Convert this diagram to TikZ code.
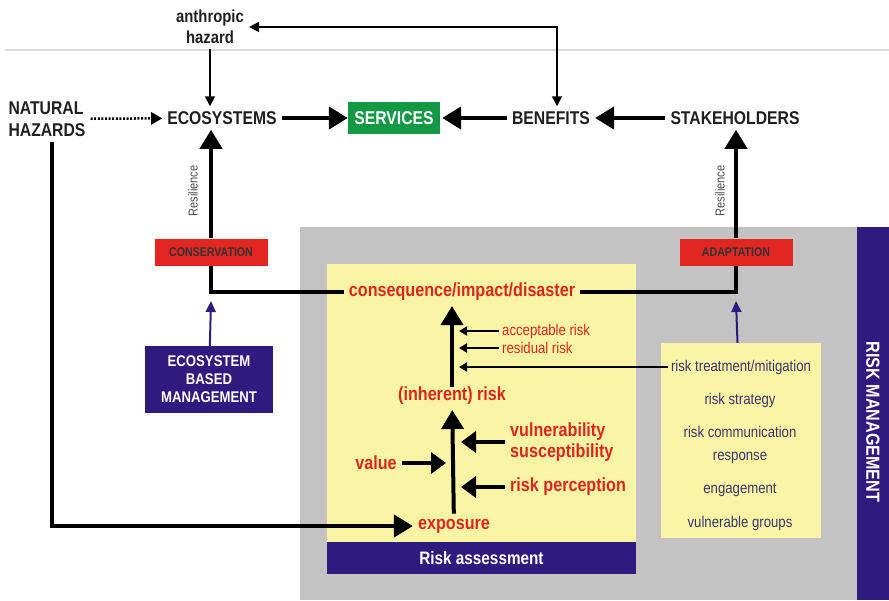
\documentclass[tikz,border=0pt]{standalone}
\usepackage{fontspec}
\setmainfont{Liberation Sans}[FakeStretch=0.85]
\usetikzlibrary{arrows.meta}

\definecolor{rmblue}{RGB}{45,27,128}
\definecolor{rmgray}{RGB}{195,195,195}
\definecolor{rayellow}{RGB}{250,245,165}
\definecolor{boxred}{RGB}{226,38,34}
\definecolor{txtred}{RGB}{222,38,30}
\definecolor{srvgreen}{RGB}{20,152,70}
\definecolor{itemblue}{RGB}{58,54,110}

\tikzset{
  mainlabel/.style={font=\bfseries\fontsize{18.5}{22}\selectfont, text=black!88, inner sep=5pt, align=center},
  riskred/.style={font=\bfseries\fontsize{19}{21}\selectfont, text=txtred, inner sep=5pt, align=left},
  riskthin/.style={font=\fontsize{15.5}{17}\selectfont, text=txtred, inner sep=3pt},
  item/.style={font=\fontsize{15.5}{17}\selectfont, text=itemblue, inner sep=3pt},
  redbox/.style={fill=boxred, text=black!80, font=\bfseries\fontsize{12.5}{14}\selectfont,
    minimum width=113pt, minimum height=27pt},
  bluebox/.style={fill=rmblue, text=white, font=\bfseries\fontsize{15.5}{18}\selectfont, align=center},
  topline/.style={line width=4.5pt, -{Triangle[length=19pt,width=22pt]}},
  bigarrow/.style={line width=4pt, -{Triangle[length=19pt,width=22pt]}},
  sidearrow/.style={line width=4pt, -{Triangle[length=15pt,width=21pt]}},
  thinside/.style={line width=1.8pt, -{Triangle[length=8pt,width=9pt]}},
  thinarrow/.style={line width=1.8pt, -{Triangle[length=10pt,width=10pt]}},
  bluearrow/.style={draw=rmblue, line width=2pt, -{Triangle[length=11pt,width=10pt]}},
  link/.style={line width=4.5pt}
}

% thin arrow from a label into a risk axis
\def\side#1#2{%
  \draw[thinside] (#1.west) -- (#2 |- #1.west);
}

\begin{document}
\begin{tikzpicture}[x=1pt,y=-1pt]
\useasboundingbox (0,0) rectangle (889,600);
\fill[rmgray] (300,227) rectangle (857,600);
\fill[rmblue] (857,227) rectangle (889,600);
\fill[rayellow] (327,264) rectangle (636,542);
\draw[black!15, line width=1.5pt] (5,50) -- (889,50);

\draw (210,27) node[mainlabel, font=\bfseries\fontsize{17.5}{21}\selectfont] (anth) {anthropic\\hazard};
\draw (47,119) node[mainlabel, align=left] (nat) {NATURAL\\HAZARDS};
\draw (222,118) node[mainlabel] (eco) {ECOSYSTEMS};
\draw (394,118) node[fill=srvgreen, text=white, font=\bfseries\fontsize{18.5}{22}\selectfont,
  minimum width=92pt, minimum height=32pt] (serv) {SERVICES};
\draw (551,118) node[mainlabel] (ben) {BENEFITS};
\draw (735,118) node[mainlabel] (stake) {STAKEHOLDERS};

\draw (211,252) node[redbox] (cons) {CONSERVATION};
\draw (736,252) node[redbox] (adapt) {ADAPTATION};
\draw (209,379.5) node[bluebox, minimum width=128pt, minimum height=67pt] (ebm) {ECOSYSTEM\\BASED\\MANAGEMENT};
\draw (481.5,558) node[bluebox, minimum width=309pt, minimum height=32pt,
  font=\bfseries\fontsize{18}{20}\selectfont] (ra) {Risk assessment};
\draw (873,422) node[rotate=-90, text=white, font=\bfseries\fontsize{19}{21}\selectfont] (rm) {RISK MANAGEMENT};

\draw (462,292) node[riskred] (cq) {consequence/impact/disaster};
\draw (452,396) node[riskred] (inh) {(inherent) risk};
\draw (454,526) node[riskred] (expo) {exposure};
\draw (376,463) node[riskred] (val) {value};
\draw (505,442) node[riskred, anchor=west] (vuln) {vulnerability\\susceptibility};
\draw (505,487) node[riskred, anchor=west] (perc) {risk perception};
\draw (499,331) node[riskthin, anchor=west] (acc) {acceptable risk};
\draw (499,348) node[riskthin, anchor=west] (resid) {residual risk};

\draw (741,440.5) node[fill=rayellow, minimum width=160pt, minimum height=195pt] (rbox) {};
\draw (741,367) node[item] (treat) {risk treatment/mitigation};
\draw (740,400) node[item] {risk strategy};
\draw (740,432) node[item] {risk communication};
\draw (740,458) node[item] {response};
\draw (740,490) node[item] {engagement};
\draw (740,523) node[item] {vulnerable groups};

\draw[topline] (eco) -- (serv);
\draw[topline, shorten >=2pt] (ben) -- (serv);
\draw[topline] (stake) -- (ben);
\draw[thinarrow] (anth) -- (anth.south |- eco.north);
\draw[thinarrow, {Triangle[length=10pt,width=10pt]}-{Triangle[length=10pt,width=10pt]}]
  (anth.east) -| ([xshift=6pt]ben.north);
\draw[line width=2.5pt, dash pattern=on 2pt off 1.6pt, -{Triangle[length=11pt,width=12pt]}]
  (nat) -- (eco);
\draw[bigarrow] ([xshift=5pt]nat.south) |- (expo.west);

\coordinate (cornL) at (cons.south |- cq.west);
\coordinate (cornR) at (adapt.south |- cq.east);
\draw[link] (cons.south) -- (cornL) -- (cq.west);
\draw[link] (cq.east) -- (cornR) -- (adapt.south);
\draw[bigarrow] (cons) -- (cons.north |- eco.south);
\draw[bigarrow] (adapt) -- (adapt.north |- stake.south);
\draw (193,191) node[rotate=90, text=black!70, font=\fontsize{13}{14}\selectfont] (resL) {Resilience};
\draw (720,191) node[rotate=90, text=black!70, font=\fontsize{13}{14}\selectfont] (resR) {Resilience};
\draw[bluearrow] (ebm) -- ([yshift=-9pt]cornL);
\draw[bluearrow] (rbox) -- ([yshift=-9pt]cornR);

\draw[bigarrow] ([yshift=-5pt]inh.north) -- (inh.north |- cq.south);
\draw[bigarrow] (expo) -- (inh);
\coordinate (axisU) at ([xshift=7pt]inh.north);
\coordinate (axisL) at ([xshift=7pt]expo.north);
\coordinate (axisV) at ([xshift=-8pt]expo.north);
\side{acc}{axisU}
\side{resid}{axisU}
\side{treat}{axisU}
\draw[sidearrow] (vuln.west) -- (axisL |- vuln.west);
\draw[sidearrow] (perc.west) -- (axisL |- perc.west);
\draw[sidearrow] (val) -- (axisV |- val.east);
\end{tikzpicture}
\end{document}
